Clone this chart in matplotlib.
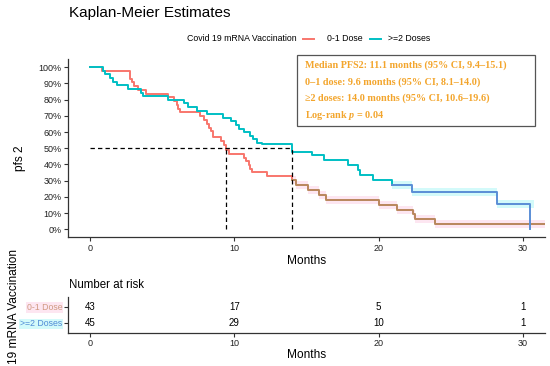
import numpy as np
import matplotlib
matplotlib.use("Agg")
import matplotlib.pyplot as plt
from matplotlib.lines import Line2D
from matplotlib.patches import Rectangle

# ---------------- data ----------------
red_t = [0, 0.8, 2.8, 2.9, 3.05, 3.3, 3.9, 5.4, 5.8, 6.0, 6.1, 6.25, 7.6, 7.9, 8.1, 8.25,
         8.4, 8.55, 9.1, 9.3, 9.45, 9.6, 10.65, 10.8, 11.0, 11.1, 11.2, 12.25, 14.0, 14.3,
         15.1, 15.9, 16.35, 20.0, 21.25, 22.35, 22.5, 23.9, 31.5]
red_s = [100, 97.7, 93.0, 90.7, 88.4, 86.0, 83.7, 81.4, 79.1, 76.7, 74.4, 72.1, 69.8, 67.4,
         65.1, 62.8, 60.5, 57.0, 54.7, 52.3, 48.8, 46.5, 44.2, 41.9, 39.6, 37.3, 35.3, 32.8,
         30.2, 27.4, 24.4, 21.3, 18.2, 15.1, 12.0, 9.4, 6.2, 3.0, 3.0]

teal_t = [0, 0.92, 1.04, 1.4, 1.6, 1.85, 2.66, 3.5, 3.7, 5.4, 6.5, 6.8, 7.4, 8.1, 9.2, 9.8,
          10.15, 10.3, 10.7, 11.1, 11.3, 11.55, 11.9, 14.0, 15.4, 16.2, 17.9, 18.6, 18.7,
          19.6, 20.9, 22.3, 28.2, 30.5]
teal_s = [100, 97.8, 95.6, 93.3, 91.1, 88.9, 86.7, 84.4, 82.2, 80.0, 77.8, 75.6, 73.3, 71.1,
          68.9, 66.7, 64.4, 62.2, 60.0, 57.8, 55.6, 53.3, 52.4, 47.8, 45.6, 42.7, 39.6, 36.5,
          33.5, 30.4, 27.3, 23.2, 15.5, 0.0]

median_red = 9.4
median_teal = 14.0
red_switch = 14.0
teal_switch = 20.9
teal_band_end = 30.8
band_hw = 2.5

groups = ["0-1 Dose", ">=2 Doses"]
risk_times = [0, 10, 20, 30]
risk_01 = [43, 17, 5, 1]
risk_2 = [45, 29, 10, 1]

yticks = [0, 10, 20, 30, 40, 50, 60, 70, 80, 90, 100]
xticks = [0, 10, 20, 30]

box_lines = ["Median PFS2: 11.1 months (95% CI, 9.4\u201315.1)",
             "0\u20131 dose: 9.6 months (95% CI, 8.1\u201314.0)",
             "\u22652 doses: 14.0 months (95% CI, 10.6\u201319.6)",
             "Log-rank $p$ = 0.04"]

# ---------------- style ----------------
RED = "#F8766D"
TEAL = "#00BFC4"
BLUE = "#5A8ED6"
BROWN = "#B9875C"
PINK_BAND = "#FDE6F1"
CYAN_BAND = "#D3FAFA"
ORANGE = "#F3A52C"
AXC = "#333333"
SANS = ["Liberation Sans", "DejaVu Sans"]
SERIF = ["Liberation Serif", "DejaVu Serif"]

plt.rcParams["font.family"] = SANS
plt.rcParams["mathtext.fontset"] = "custom"
plt.rcParams["mathtext.it"] = "Liberation Serif:italic:bold"
plt.rcParams["mathtext.rm"] = "Liberation Serif:bold"

W, H = 550, 366
fig = plt.figure(figsize=(5.5, 3.66), dpi=100)


def fx(px):
    return px / W


def fy(py):
    return 1 - py / H


XL = (-1.525, 31.53)

# ---------------- main plot ----------------
ax = fig.add_axes([fx(68), fy(237.3), fx(545) - fx(68), fy(59) - fy(237.3)])
ax.set_xlim(*XL)
ax.set_ylim(-4.94, 105.1)

rt = np.array(red_t)
rs = np.array(red_s)
tt = np.array(teal_t)
ts = np.array(teal_s)

# bands
m = rt >= red_switch
ax.fill_between(rt[m], rs[m] - band_hw, rs[m] + band_hw, step="post", color=PINK_BAND,
                lw=0, zorder=1)
mb = (tt >= teal_switch) & (tt < tt[-1])
bt = np.append(tt[mb], teal_band_end)
bs = np.append(ts[mb], ts[mb][-1])
ax.fill_between(bt, bs - band_hw, bs + band_hw, step="post", color=CYAN_BAND, lw=0, zorder=1)

# curves
mr1 = rt <= red_switch
ax.step(rt[mr1], rs[mr1], where="post", color=RED, lw=1.4, zorder=3)
ax.step(rt[m], rs[m], where="post", color=BROWN, lw=1.4, zorder=3)
mt1 = tt <= teal_switch
mt2 = tt >= teal_switch
ax.step(tt[mt1], ts[mt1], where="post", color=TEAL, lw=1.4, zorder=3)
ax.step(tt[mt2], ts[mt2], where="post", color=BLUE, lw=1.4, zorder=3)

# median lines
dash = dict(color="black", lw=0.9, ls=(0, (3.5, 2.5)), zorder=4)
ax.plot([0, median_teal], [50, 50], **dash)
ax.plot([median_red, median_red], [0, 50], **dash)
ax.plot([median_teal, median_teal], [0, 50], **dash)

ax.set_yticks(yticks)
ax.set_yticklabels([f"{v}%" for v in yticks])
ax.set_xticks(xticks)
ax.set_xticklabels([str(v) for v in xticks])
for s in ["top", "right"]:
    ax.spines[s].set_visible(False)
for s in ["left", "bottom"]:
    ax.spines[s].set_color(AXC)
    ax.spines[s].set_linewidth(0.9)
ax.tick_params(axis="both", length=3, width=0.8, color=AXC, labelsize=6.5,
               labelcolor="#222222", pad=1.5)
ax.set_xlabel("Months", fontsize=8.6, labelpad=2)

fig.text(fx(20), fy(158), "pfs 2", rotation=90, ha="center", va="center", fontsize=8.6)

# title
fig.text(fx(69), fy(12.5), "Kaplan-Meier Estimates", ha="left", va="center", fontsize=11)

# legend
ly = fy(38.5)
fig.text(fx(187), ly, "Covid 19 mRNA Vaccination", ha="left", va="center", fontsize=6.3)
fig.add_artist(Line2D([fx(303), fx(314)], [ly, ly], color=RED, lw=1.4))
fig.text(fx(327), ly, groups[0], ha="left", va="center", fontsize=6.3)
fig.add_artist(Line2D([fx(370), fx(381)], [ly, ly], color=TEAL, lw=1.4))
fig.text(fx(388), ly, groups[1], ha="left", va="center", fontsize=6.3)

# annotation box
fig.add_artist(Rectangle((fx(296.7), fy(125.7)), fx(535) - fx(296.7), fy(54.5) - fy(125.7),
                         fill=False, edgecolor="#555555", lw=0.9))
for i, line in enumerate(box_lines):
    fig.text(fx(305), fy(65 + i * 16.7), line, ha="left", va="center", fontsize=7.3,
             family=SERIF, weight="bold", color=ORANGE)

# ---------------- risk table ----------------
ax2 = fig.add_axes([fx(68), fy(332.6), fx(545) - fx(68), fy(297) - fy(332.6)])
ax2.set_xlim(*XL)
ax2.set_ylim(0.41, 2.59)
for tval, a, b in zip(risk_times, risk_01, risk_2):
    ax2.text(tval, 2, str(a), ha="center", va="center", fontsize=7)
    ax2.text(tval, 1, str(b), ha="center", va="center", fontsize=7)
ax2.set_yticks([2, 1])
ax2.set_yticklabels(groups)
ax2.set_xticks(xticks)
ax2.set_xticklabels([str(v) for v in xticks])
for s in ["top", "right"]:
    ax2.spines[s].set_visible(False)
for s in ["left", "bottom"]:
    ax2.spines[s].set_color(AXC)
    ax2.spines[s].set_linewidth(0.9)
ax2.tick_params(axis="x", length=3, width=0.8, color=AXC, labelsize=6.5,
                labelcolor="#222222", pad=1.5)
ax2.tick_params(axis="y", length=3, width=0.8, color=AXC, labelsize=6.3, pad=1.2)
yl = ax2.get_yticklabels()
yl[0].set_color("#D09A82")
yl[0].set_bbox(dict(facecolor=PINK_BAND, edgecolor="none", pad=0.6))
yl[1].set_color("#4F8BD6")
yl[1].set_bbox(dict(facecolor=CYAN_BAND, edgecolor="none", pad=0.6))
ax2.set_xlabel("Months", fontsize=8.6, labelpad=1)

fig.text(fx(69), fy(284.6), "Number at risk", ha="left", va="center", fontsize=8.3)
fig.text(fx(14), fy(364.5), "19 mRNA Vaccination", rotation=90, ha="center", va="bottom",
         fontsize=8.6)

fig.savefig("out.png", dpi=100)
